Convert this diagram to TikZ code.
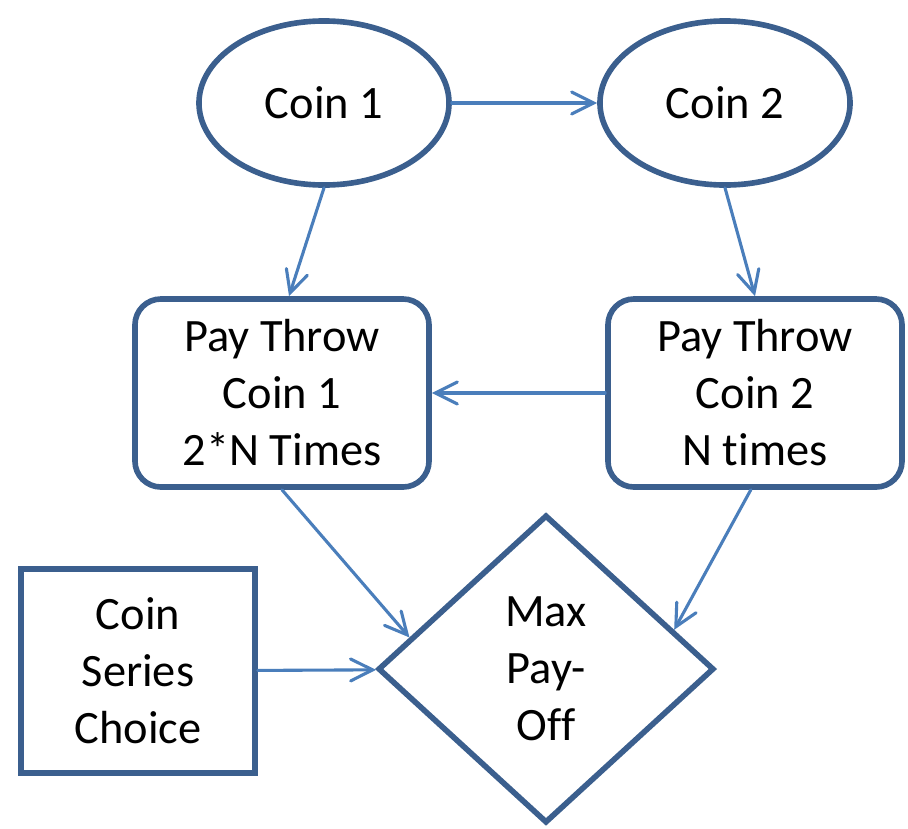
\documentclass[tikz,border=0pt]{standalone}
\usepackage{fontspec}
\setmainfont[Ligatures=NoCommon]{Carlito}
\usepackage{tikz}
\usetikzlibrary{positioning,shapes.geometric,arrows.meta}
\definecolor{boxblue}{HTML}{3B5F8E}
\definecolor{arrowblue}{HTML}{4A7EBB}

\begin{document}
\begin{tikzpicture}[x=0.025cm, y=-0.025cm,
        every node/.style={font=\fontsize{33}{40.5}\selectfont, align=center},
        coinnode/.style={ellipse, draw=boxblue, line width=4pt, minimum width=6.25cm, minimum height=4.1cm, inner sep=0pt},
        paynode/.style={rectangle, rounded corners=0.65cm, draw=boxblue, line width=4pt, minimum width=7.35cm, minimum height=4.7cm},
        choicenode/.style={rectangle, draw=boxblue, line width=4pt, minimum width=5.85cm, minimum height=5.1cm},
        maxnode/.style={diamond, draw=boxblue, line width=4pt, minimum width=8.4cm, minimum height=7.7cm, inner sep=0pt},
        flowline/.style={draw=arrowblue, line width=2.2pt, line cap=round,
            -{Straight Barb[length=5.5mm, width=5.5mm, line cap=round]}}]
    \useasboundingbox (0,0) rectangle (908,829);
        \node [coinnode] at (324, 103)   (coin1)   {Coin 1};
        \node [coinnode] at (725, 103)   (coin2)   {Coin 2};
        \node [paynode] at (282, 393)    (pay1)    {Pay Throw\\Coin 1\\2*N Times};
        \node [paynode] at (755, 393)    (pay2)    {Pay Throw\\Coin 2\\N times};
        \node [choicenode] at (138, 671) (choice)  {Coin\\Series\\Choice};
        \node [maxnode] at (546, 669)    (maxpay)  {Max\\Pay-\\Off};
        \path
            (coin1) edge[flowline] (coin2)
            (coin1.south) edge[flowline] ([xshift=5]pay1.north)
            (coin2.south) edge[flowline] (pay2.north)
            (pay2) edge[flowline] (pay1)
            (pay1.south) edge[flowline] (maxpay.167)
            ([xshift=-3]pay2.south) edge[flowline] (maxpay.17)
            (choice) edge[flowline] (maxpay);
    \end{tikzpicture}
\end{document}
